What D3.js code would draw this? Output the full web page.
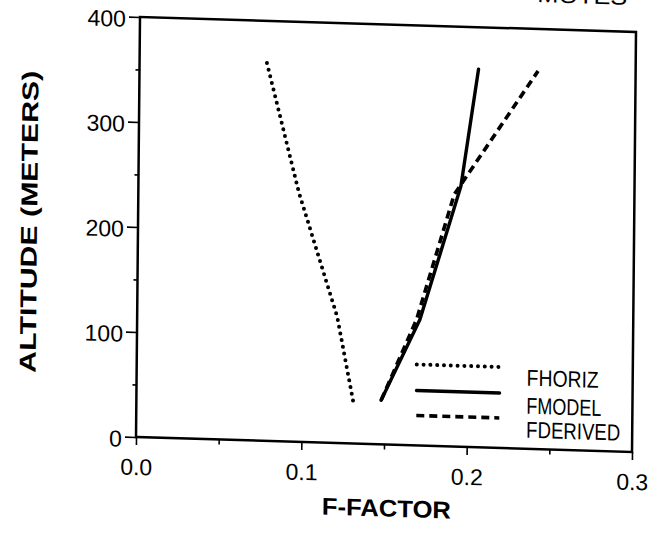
<!DOCTYPE html>
<html>
<head>
<meta charset="utf-8">
<script src="https://cdn.jsdelivr.net/npm/d3@7"></script>
<style>
  body { margin: 0; background: #fff; }
  text { font-family: "Liberation Sans", Arial, sans-serif; fill: #000; }
</style>
</head>
<body>
<div class="chart"></div>
<script>
// data
var fhorizF = [0.131, 0.121, 0.097, 0.077];
var fhorizAlt = [41, 120, 238, 360];

var fmodelF = [0.148, 0.171, 0.195, 0.205];
var fmodelAlt = [42, 120, 248, 360];

var fderivedF = [0.148, 0.169, 0.191, 0.241];
var fderivedAlt = [42, 120, 240, 360];

var xTicks = [0, 0.1, 0.2, 0.3];
var xMinor = [0.05, 0.15, 0.25];
var yTicks = [0, 100, 200, 300, 400];
var yMinor = [50, 150, 250, 350];

var seriesNames = ["FHORIZ", "FMODEL", "FDERIVED"];

// chart setup
var svgWidth = 668;
var svgHeight = 542;
var width = 496;
var height = 420;

var svg = d3.select(".chart")
  .append("svg")
  .attr("width", svgWidth)
  .attr("height", svgHeight);

svg.append("rect").attr("width", svgWidth).attr("height", svgHeight).attr("fill", "#fff");

// the scan is slightly skewed, so the whole figure is drawn in a tilted frame
var chart = svg.append("g")
  .attr("transform", "matrix(1,0.0302,-0.0095,1,140,17)");

var xScale = d3.scaleLinear().domain([0, 0.3]).range([0, width]);
var yScale = d3.scaleLinear().domain([0, 400]).range([height, 0]);

// x axis
var xAxis = chart.append("g")
  .attr("transform", "translate(0," + height + ")")
  .call(d3.axisBottom(xScale).tickValues(xTicks).tickSize(8).tickFormat(d3.format(".1f")));
xAxis.select(".domain").remove();
xAxis.selectAll("text").attr("y", 38).attr("dy", 0).style("font-size", "23px");

var xAxisMinor = chart.append("g")
  .attr("transform", "translate(0," + height + ")")
  .call(d3.axisBottom(xScale).tickValues(xMinor).tickSize(5).tickFormat(""));
xAxisMinor.select(".domain").remove();

// y axis
var yAxis = chart.append("g")
  .call(d3.axisLeft(yScale).tickValues(yTicks).tickSize(11));
yAxis.select(".domain").remove();
yAxis.selectAll("text").attr("x", -14).attr("dy", "0.42em").style("font-size", "23px");

var yAxisMinor = chart.append("g")
  .call(d3.axisLeft(yScale).tickValues(yMinor).tickSize(4).tickFormat(""));
yAxisMinor.select(".domain").remove();

chart.selectAll(".tick line").attr("stroke", "#000").attr("stroke-width", 1.6);

// frame
chart.append("rect")
  .attr("width", width)
  .attr("height", height)
  .attr("fill", "none")
  .attr("stroke", "#000")
  .attr("stroke-width", 2.5);

// lines
var line = d3.line()
  .x(function(d) { return xScale(d[0]); })
  .y(function(d) { return yScale(d[1]); });

var styles = [
  { dash: "0 6.8", width: 4, cap: "round" },
  { dash: null, width: 3.4, cap: "round" },
  { dash: "8 5", width: 3.6, cap: "butt" }
];

var series = [
  d3.zip(fhorizF, fhorizAlt),
  d3.zip(fmodelF, fmodelAlt),
  d3.zip(fderivedF, fderivedAlt)
];

series.forEach(function(pts, i) {
  chart.append("path")
    .datum(pts)
    .attr("d", line)
    .attr("fill", "none")
    .attr("stroke", "#000")
    .attr("stroke-width", styles[i].width)
    .attr("stroke-linecap", styles[i].cap)
    .attr("stroke-linejoin", "round")
    .attr("stroke-dasharray", styles[i].dash);
});

// legend
var legendLineY = [339, 365, 390];
var legendTextY = [357, 385, 409];
var legendTextW = [72, 75, 94];

seriesNames.forEach(function(name, i) {
  chart.append("line")
    .attr("x1", 280).attr("x2", 363)
    .attr("y1", legendLineY[i]).attr("y2", legendLineY[i])
    .attr("stroke", "#000")
    .attr("stroke-width", styles[i].width)
    .attr("stroke-linecap", styles[i].cap)
    .attr("stroke-dasharray", styles[i].dash);

  chart.append("text")
    .attr("x", 390)
    .attr("y", legendTextY[i])
    .attr("textLength", legendTextW[i])
    .attr("lengthAdjust", "spacingAndGlyphs")
    .style("font-size", "23px")
    .text(name);
});

// axis titles
chart.append("text")
  .attr("transform", "translate(-101," + (height / 2 - 2) + ") rotate(-90)")
  .attr("text-anchor", "middle")
  .attr("textLength", 302)
  .attr("lengthAdjust", "spacingAndGlyphs")
  .style("font-size", "23px")
  .style("font-weight", "bold")
  .text("ALTITUDE (METERS)");

chart.append("text")
  .attr("x", 251)
  .attr("y", 492)
  .attr("text-anchor", "middle")
  .attr("textLength", 129)
  .attr("lengthAdjust", "spacingAndGlyphs")
  .style("font-size", "24px")
  .style("font-weight", "bold")
  .text("F-FACTOR");

// cut-off heading at the top edge of the scan
chart.append("text")
  .attr("x", 397)
  .attr("y", -27)
  .attr("textLength", 90)
  .attr("lengthAdjust", "spacingAndGlyphs")
  .style("font-size", "22px")
  .text("MOTES");
</script>
</body>
</html>
